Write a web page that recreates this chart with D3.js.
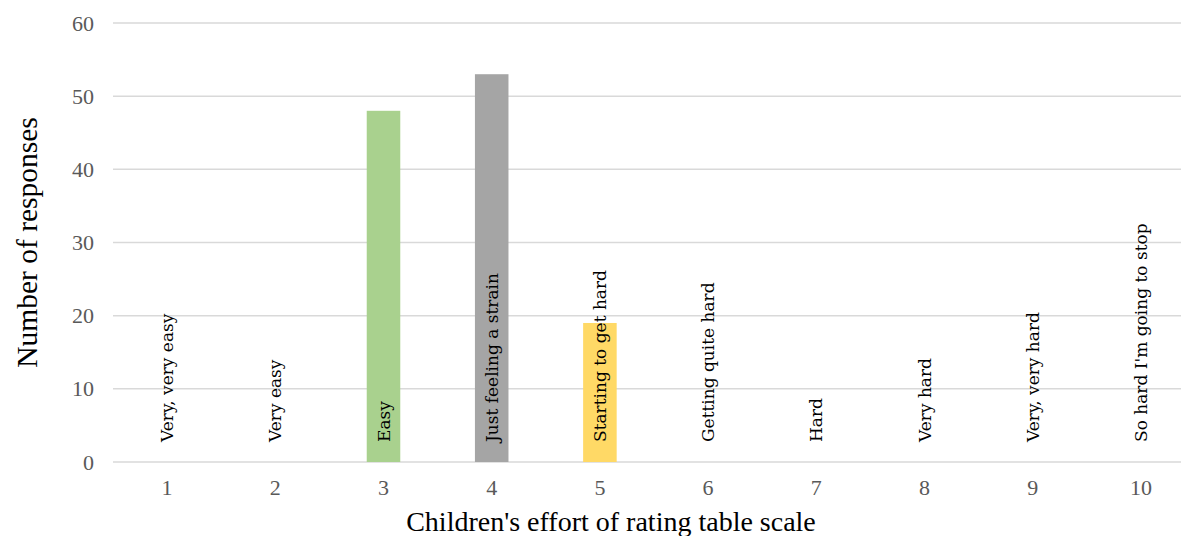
<!DOCTYPE html>
<html>
<head>
<meta charset="utf-8">
<script src="https://cdn.jsdelivr.net/npm/d3@7"></script>
<style>
  html, body { margin: 0; padding: 0; background: #fff; }
  svg { display: block; }
</style>
</head>
<body>
<svg id="chart" width="1181" height="536"></svg>
<script>
// Effort ratings and response counts
const ratings = ["1", "2", "3", "4", "5", "6", "7", "8", "9", "10"];
const responses = [0, 0, 48, 53, 19, 0, 0, 0, 0, 0];
const descriptors = [
  "Very, very easy", "Very easy", "Easy", "Just feeling a strain",
  "Starting to get hard", "Getting quite hard", "Hard", "Very hard",
  "Very, very hard", "So hard I'm going to stop"
];
const barColors = ["#A9D18E", "#A9D18E", "#A9D18E", "#A5A5A5", "#FFD966",
                   "#FFD966", "#FFD966", "#FFD966", "#FFD966", "#FFD966"];
const yTicks = [0, 10, 20, 30, 40, 50, 60];

const svg = d3.select("#chart");
const plotLeft = 113, plotRight = 1195, plotTop = 23, plotBottom = 462;

const x = d3.scaleBand().domain(ratings).range([plotLeft, plotRight]).paddingInner(0.69).paddingOuter(0.345);
const y = d3.scaleLinear().domain([0, 60]).range([plotBottom, plotTop]);

// Horizontal gridlines
svg.append("g")
  .selectAll("line")
  .data(yTicks)
  .join("line")
  .attr("x1", plotLeft).attr("x2", 1181)
  .attr("y1", d => y(d)).attr("y2", d => y(d))
  .attr("stroke", "#d9d9d9").attr("stroke-width", 1.5);

// Bars
svg.append("g")
  .selectAll("rect")
  .data(ratings)
  .join("rect")
  .attr("x", d => x(d))
  .attr("width", x.bandwidth())
  .attr("y", (d, i) => y(responses[i]))
  .attr("height", (d, i) => y(0) - y(responses[i]))
  .attr("fill", (d, i) => barColors[i]);

// Y axis labels
const yAxis = svg.append("g")
  .attr("transform", `translate(${plotLeft},0)`)
  .call(d3.axisLeft(y).tickValues(yTicks).tickSize(0).tickPadding(19));
yAxis.select(".domain").remove();
yAxis.selectAll("text")
  .attr("fill", "#595959")
  .style("font-family", "'Liberation Serif', serif")
  .style("font-size", "22px");

// X axis labels
const xAxis = svg.append("g")
  .attr("transform", `translate(0,${plotBottom})`)
  .call(d3.axisBottom(x).tickSize(0).tickPadding(17));
xAxis.select(".domain").remove();
xAxis.selectAll("text")
  .attr("fill", "#595959")
  .style("font-family", "'Liberation Serif', serif")
  .style("font-size", "22px");

// Vertical descriptor labels
svg.append("g")
  .selectAll("text")
  .data(ratings)
  .join("text")
  .attr("transform", d => `translate(${x(d) + x.bandwidth() / 2 + 6},${plotBottom - 20}) rotate(-90)`)
  .attr("text-anchor", "start")
  .attr("fill", "#000")
  .style("font-family", "'DejaVu Serif', serif")
  .style("font-size", "17px")
  .text((d, i) => descriptors[i]);

// Axis titles
svg.append("text")
  .attr("transform", `translate(37,${(plotTop + plotBottom) / 2}) rotate(-90)`)
  .attr("text-anchor", "middle")
  .attr("fill", "#000")
  .style("font-family", "'Liberation Serif', serif")
  .style("font-size", "29.5px")
  .text("Number of responses");

svg.append("text")
  .attr("x", 611)
  .attr("y", 531)
  .attr("text-anchor", "middle")
  .attr("fill", "#000")
  .style("font-family", "'Liberation Serif', serif")
  .style("font-size", "28px")
  .text("Children's effort of rating table scale");
</script>
</body>
</html>
